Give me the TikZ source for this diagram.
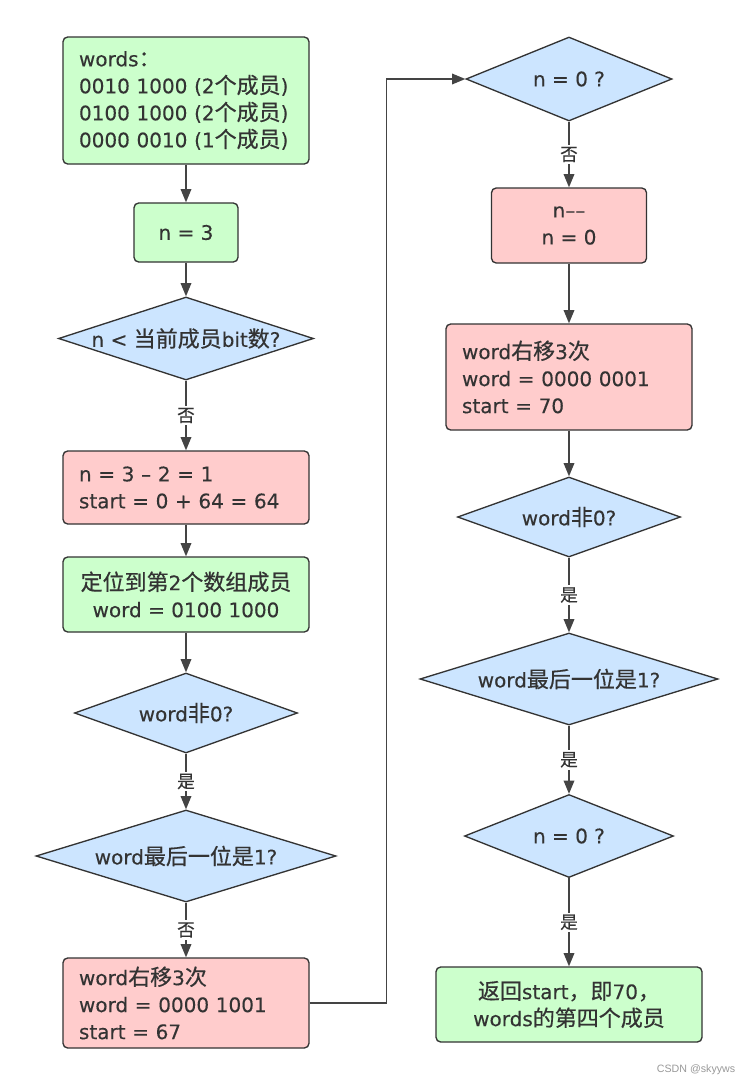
\documentclass[tikz,border=0pt]{standalone}
\usepackage{fontspec}
\setmainfont{DejaVu Sans}[FakeBold=0.25]
\newfontfamily\cjk{Noto Sans CJK SC}[Scale=1.1, FakeBold=0.5]
\newfontfamily\wmfont{Liberation Sans}
\newcommand\zh[1]{{\cjk #1}}
\usetikzlibrary{arrows.meta,shapes.geometric}
\definecolor{gfill}{HTML}{CCFFCC}
\definecolor{rfill}{HTML}{FFCCCC}
\definecolor{bfill}{HTML}{CCE5FF}
\definecolor{ink}{HTML}{333333}
\definecolor{wire}{HTML}{444444}
\definecolor{mark}{HTML}{999999}
\begin{document}
\begin{tikzpicture}[x=0.75pt,y=-0.75pt,
  font=\fontsize{15pt}{20.25pt}\selectfont, text=ink,
  sz/.style 2 args={minimum width=#1*0.75pt, minimum height=#2*0.75pt},
  base/.style={draw=ink, line width=1pt, rounded corners=3.5pt},
  gbox/.style={base, fill=gfill},
  rbox/.style={base, fill=rfill},
  ctext/.style={align=center, inner sep=0pt},
  ltext/.style={align=left, inner xsep=16*0.75pt, inner ysep=0pt, text width=#1*0.75pt-32*0.75pt},
  dia/.style={shape=diamond, draw=ink, line width=1pt, fill=bfill, inner sep=0pt},
  arr/.style={draw=wire, line width=1.1pt, -{Triangle[length=10pt,width=8pt]}},
  lbl/.style={fill=white, inner sep=1.5pt, font=\fontsize{12pt}{15pt}\selectfont\cjk},
  wm/.style={text=mark, font=\fontsize{8pt}{10pt}\selectfont\wmfont}
]
\fill[white] (0,0) rectangle (754,1086);
\useasboundingbox (0,0) rectangle (754,1086);

% left column
\node[gbox, sz={246}{127}, ltext=246] (words) at (186,100.5)
  {words\zh{：}\\0010 1000 (2\zh{个成员})\\0100 1000 (2\zh{个成员})\\0000 0010 (1\zh{个成员})};
\node[gbox, sz={104}{59}, ctext] (n3) at (186,232.5) {n = 3};
\node[dia, sz={255}{83}] (d1) at (186,338.5) {};
\node[ctext] (d1t) at (d1.center) {n < \zh{当前成员}bit\zh{数}?};
\node[rbox, sz={246}{73}, ltext=246] (r1) at (186,487.5)
  {n = 3 – 2 = 1\\start = 0 + 64 = 64};
\node[gbox, sz={246}{75}, ctext] (g1) at (186,594.5)
  {\zh{定位到第}2\zh{个数组成员}\\word = 0100 1000};
\node[dia, sz={223}{80}] (d2) at (186,713) {};
\node[ctext] (d2t) at (d2.center) {word\zh{非}0?};
\node[dia, sz={300}{92}] (d3) at (186,856) {};
\node[ctext] (d3t) at (d3.center) {word\zh{最后一位是}1?};
\node[rbox, sz={246}{90}, ltext=246] (r2) at (186,1003)
  {word\zh{右移}3\zh{次}\\word = 0000 1001\\start = 67};

% right column
\node[dia, sz={206}{84}] (d4) at (569,79) {};
\node[ctext] (d4t) at (d4.center) {n = 0 ?};
\node[rbox, sz={155}{75}, ctext] (r3) at (569,225.5) {n––\\n = 0};
\node[rbox, sz={246}{106}, ltext=246] (r4) at (569,377)
  {word\zh{右移}3\zh{次}\\word = 0000 0001\\start = 70};
\node[dia, sz={223}{80}] (d5) at (569,517) {};
\node[ctext] (d5t) at (d5.center) {word\zh{非}0?};
\node[dia, sz={298}{92}] (d6) at (569,679) {};
\node[ctext] (d6t) at (d6.center) {word\zh{最后一位是}1?};
\node[dia, sz={209}{83}] (d7) at (569,836) {};
\node[ctext] (d7t) at (d7.center) {n = 0 ?};
\node[gbox, sz={266}{75}, ctext] (g3) at (569,1004.5)
  {\zh{返回}start\zh{，即}70\zh{，}\\words\zh{的第四个成员}};

\node[wm, anchor=east] (wmk) at (740,1070) {CSDN @skyyws};

% connectors
\draw[arr] (words) -- (n3);
\draw[arr] (n3) -- (d1);
\draw[arr] (d1) -- node[lbl]{否} (r1);
\draw[arr] (r1) -- (g1);
\draw[arr] (g1) -- (d2);
\draw[arr] (d2) -- node[lbl]{是} (d3);
\draw[arr] (d3) -- node[lbl]{否} (r2);
\coordinate (bend) at (386.5,1003);
\draw[arr] (r2.east) -- (bend) |- (d4.west);
\draw[arr] (d4) -- node[lbl]{否} (r3);
\draw[arr] (r3) -- (r4);
\draw[arr] (r4) -- (d5);
\draw[arr] (d5) -- node[lbl]{是} (d6);
\draw[arr] (d6) -- node[lbl]{是} (d7);
\draw[arr] (d7) -- node[lbl]{是} (g3);
\end{tikzpicture}
\end{document}
